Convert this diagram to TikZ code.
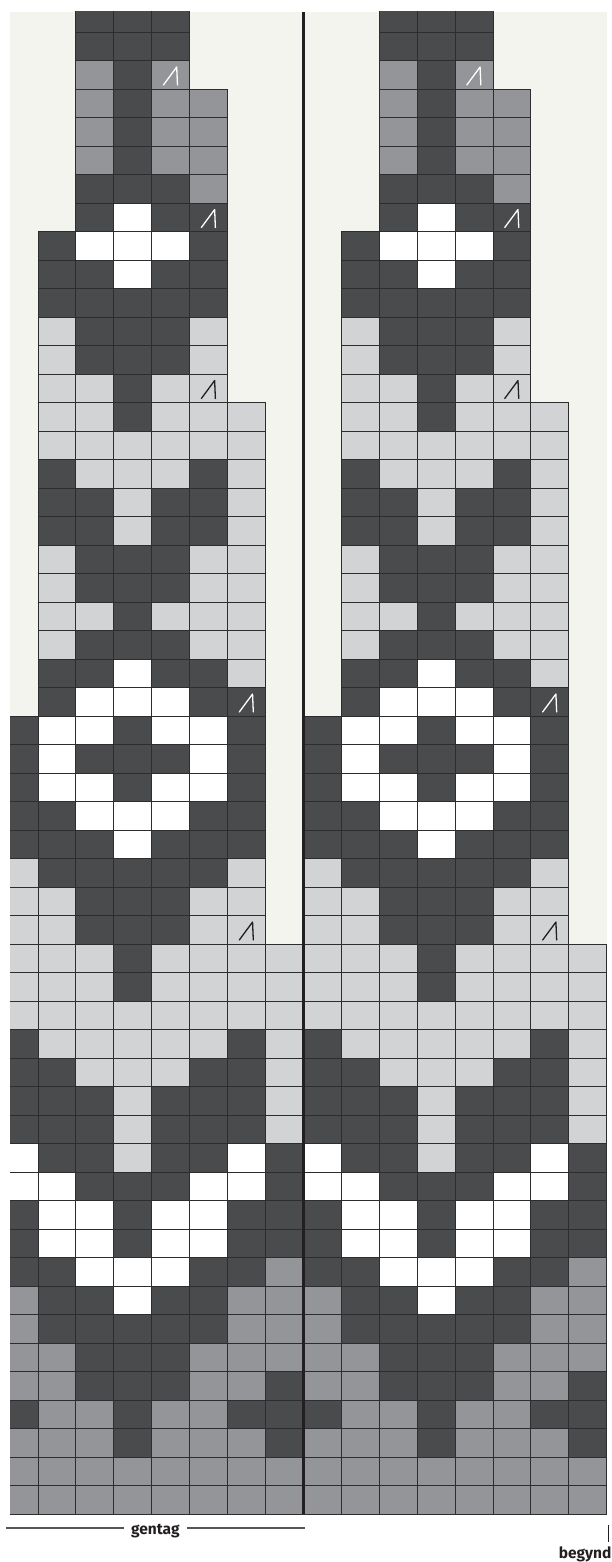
\documentclass[tikz,border=0pt]{standalone}
\usepackage{fontspec}
\setmainfont{Fira Sans}
\usetikzlibrary{positioning}
\definecolor{knitD}{RGB}{74,75,77}
\definecolor{knitM}{RGB}{147,149,152}
\definecolor{knitL}{RGB}{209,211,212}
\definecolor{knitW}{RGB}{255,255,255}
\definecolor{paper}{RGB}{244,244,239}
\definecolor{gridline}{RGB}{45,45,48}
\definecolor{inkblack}{RGB}{35,31,32}
\definecolor{labelgray}{RGB}{85,85,87}

% one row of the chart: {row from below}{first column}{cell colours}
\newcommand{\chartrow}[3]{%
  \foreach \cell [count=\i from #2] in {#3}
    \filldraw[cellbox,fill=knit\cell] (\i,#1-1) rectangle ++(1,1);}
% decrease sign: {column}{row}{colour}
\newcommand{\decmark}[3]{%
  \draw[decstroke,#3] (#1+0.31,#2-0.86) -- (#1+0.66,#2-0.23) -- (#1+0.68,#2-0.86);}

% one repeat of the pattern (8 stitches wide)
\newcommand{\halfchart}{%
  \chartrow{1}{0}{M,M,M,M,M,M,M,M}
  \chartrow{2}{0}{M,M,M,M,M,M,M,M}
  \chartrow{3}{0}{M,M,M,D,M,M,M,D}
  \chartrow{4}{0}{D,M,M,D,M,M,D,D}
  \chartrow{5}{0}{M,M,D,D,D,M,M,D}
  \chartrow{6}{0}{M,M,D,D,D,M,M,M}
  \chartrow{7}{0}{M,D,D,D,D,D,M,M}
  \chartrow{8}{0}{M,D,D,W,D,D,M,M}
  \chartrow{9}{0}{D,D,W,W,W,D,D,M}
  \chartrow{10}{0}{D,W,W,D,W,W,D,D}
  \chartrow{11}{0}{D,W,W,D,W,W,D,D}
  \chartrow{12}{0}{W,W,D,D,D,W,W,D}
  \chartrow{13}{0}{W,D,D,L,D,D,W,D}
  \chartrow{14}{0}{D,D,D,L,D,D,D,L}
  \chartrow{15}{0}{D,D,D,L,D,D,D,L}
  \chartrow{16}{0}{D,D,L,L,L,D,D,L}
  \chartrow{17}{0}{D,L,L,L,L,L,D,L}
  \chartrow{18}{0}{L,L,L,L,L,L,L,L}
  \chartrow{19}{0}{L,L,L,D,L,L,L,L}
  \chartrow{20}{0}{L,L,L,D,L,L,L,L}
  \chartrow{21}{0}{L,L,D,D,D,L,L}
  \chartrow{22}{0}{L,L,D,D,D,L,L}
  \chartrow{23}{0}{L,D,D,D,D,D,L}
  \chartrow{24}{0}{D,D,D,W,D,D,D}
  \chartrow{25}{0}{D,D,W,W,W,D,D}
  \chartrow{26}{0}{D,W,W,D,W,W,D}
  \chartrow{27}{0}{D,W,D,D,D,W,D}
  \chartrow{28}{0}{D,W,W,D,W,W,D}
  \chartrow{29}{1}{D,W,W,W,D,D}
  \chartrow{30}{1}{D,D,W,D,D,L}
  \chartrow{31}{1}{L,D,D,D,L,L}
  \chartrow{32}{1}{L,L,D,L,L,L}
  \chartrow{33}{1}{L,D,D,D,L,L}
  \chartrow{34}{1}{L,D,D,D,L,L}
  \chartrow{35}{1}{D,D,L,D,D,L}
  \chartrow{36}{1}{D,D,L,D,D,L}
  \chartrow{37}{1}{D,L,L,L,D,L}
  \chartrow{38}{1}{L,L,L,L,L,L}
  \chartrow{39}{1}{L,L,D,L,L,L}
  \chartrow{40}{1}{L,L,D,L,L}
  \chartrow{41}{1}{L,D,D,D,L}
  \chartrow{42}{1}{L,D,D,D,L}
  \chartrow{43}{1}{D,D,D,D,D}
  \chartrow{44}{1}{D,D,W,D,D}
  \chartrow{45}{1}{D,W,W,W,D}
  \chartrow{46}{2}{D,W,D,D}
  \chartrow{47}{2}{D,D,D,M}
  \chartrow{48}{2}{M,D,M,M}
  \chartrow{49}{2}{M,D,M,M}
  \chartrow{50}{2}{M,D,M,M}
  \chartrow{51}{2}{M,D,M}
  \chartrow{52}{2}{D,D,D}
  \chartrow{53}{2}{D,D,D}
  % decreases at the right edge
  \decmark{4}{51}{white}
  \decmark{5}{46}{white}
  \decmark{5}{40}{inkblack}
  \decmark{6}{29}{white}
  \decmark{6}{21}{inkblack}
}

\begin{document}
\begin{tikzpicture}[x=37.92pt,y=28.5pt,
    font=\fontsize{15.5}{18}\selectfont\bfseries,
    cellbox/.style={draw=gridline,line width=0.8pt},
    decstroke/.style={line width=1.3pt,line cap=round,line join=round},
    labelline/.style={draw=labelgray,line width=1.6pt}]
\useasboundingbox (0,-1.684) rectangle (16.139,53.123);
% ================= chart =================
\begin{scope}
  \clip (0.264,0) rectangle (16.2,52.702);
  \fill[paper] (0.264,0) rectangle (16.015,52.702);
  \halfchart
  \begin{scope}[shift={(8,0)}]
    \halfchart
  \end{scope}
  % border between the two repeats
  \draw[inkblack,line width=2.6pt] (8,0) -- (8,52.702);
\end{scope}
% ================= labels =================
\node[anchor=base,inner xsep=7pt,text=inkblack] (gentag) at (4.097,-0.726) {gentag};
\coordinate (repL) at (0.158,-0.481);
\coordinate (repR) at (8.03,-0.481);
\draw[labelline] (repL) -- (repL -| gentag.west);
\draw[labelline] (repR -| gentag.east) -- (repR);
\node[anchor=base east,inner sep=0pt,text=inkblack] (begynd) at (16.13,-1.554) {begynd};
\coordinate (startT) at (16.04,-0.386);
\coordinate (startB) at (16.04,-0.972);
\draw[inkblack,line width=1.2pt] (startT) -- (startB);
\end{tikzpicture}
\end{document}
